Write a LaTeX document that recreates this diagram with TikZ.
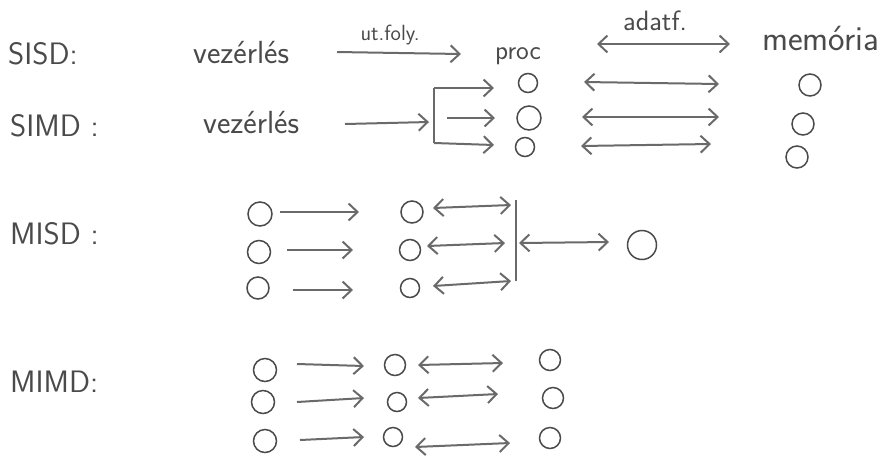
\documentclass[tikz,border=0pt]{standalone}
\usetikzlibrary{arrows.meta}
\definecolor{pencil}{HTML}{4A4A4A}
\definecolor{pencilL}{HTML}{6A6A6A}
\begin{document}
\begin{tikzpicture}[x=1pt,y=-1pt,
  txt/.style={text=pencil,inner sep=0pt,font=\sffamily\fontsize{32}{36}\selectfont},
  lab/.style={text=pencil,inner sep=0pt,anchor=base west,font=\sffamily\fontsize{31}{36}\selectfont},
  ring/.style={circle,draw=pencil,line width=1.5pt,inner sep=0pt,minimum size=#1},
  ring/.default=22pt,
  arr/.style={draw=pencilL,line width=2pt,-{Straight Barb[length=9pt,width=17pt]}},
  darr/.style={draw=pencilL,line width=2pt,{Straight Barb[length=9pt,width=17pt]}-{Straight Barb[length=9pt,width=17pt]}},
  brk/.style={draw=pencilL,line width=2pt}
]
\useasboundingbox (0,0) rectangle (888,459);

% ---------- SISD ----------
\node[lab] (sisd) at (8,64) {SISD:};
\node[txt,anchor=base west] (v1) at (193,63) {vezérlés};
\node[txt,anchor=base,font=\sffamily\fontsize{27}{30}\selectfont] (proc) at (518,59) {proc};
\node[txt,anchor=base west,font=\sffamily\fontsize{35}{38}\selectfont] (mem) at (762,50) {memória};
\node[txt,anchor=base,font=\sffamily\fontsize{22}{26}\selectfont] (utf) at (390,40) {ut.foly.};
\node[txt,anchor=base,font=\sffamily\fontsize{28}{30}\selectfont] (adf) at (655,30) {adatf.};
\coordinate (s1a) at (337,52);
\coordinate (s1b) at (461,54);
\coordinate (s2a) at (597,44);
\coordinate (s2b) at (730,44);
\draw[arr] (s1a) -- (s1b);
\draw[darr] (s2a) -- (s2b);

% ---------- SIMD ----------
\node[lab] (simd) at (10,136) {SIMD :};
\node[txt,anchor=base west] (v2) at (203,133) {vezérlés};
\coordinate (vo) at (345,124);
\coordinate (bi) at (429,122);
\coordinate (bt) at (434,88);
\coordinate (bm) at (447,118);
\coordinate (bb) at (434,143);
\coordinate (t1) at (494,88);
\coordinate (t2) at (495,118);
\coordinate (t3) at (494,145);
\node[ring=19pt] (p1) at (528,83) {};
\node[ring=24pt] (p2) at (529,118) {};
\node[ring=19pt] (p3) at (525,147) {};
\node[ring=22pt] (m1) at (810,85) {};
\node[ring=22pt] (m2) at (803,124) {};
\node[ring=22pt] (m3) at (797,157) {};
\coordinate (q1a) at (584,82); \coordinate (q1b) at (719,84);
\coordinate (q2a) at (582,117); \coordinate (q2b) at (719,117);
\coordinate (q3a) at (581,146); \coordinate (q3b) at (711,144);
\draw[arr] (vo) -- (bi);
\draw[brk] (bt) -- (bb);
\draw[arr] (bt) -- (t1);
\draw[arr] (bm) -- (t2);
\draw[arr] (bb) -- (t3);
\draw[darr] (q1a) -- (q1b);
\draw[darr] (q2a) -- (q2b);
\draw[darr] (q3a) -- (q3b);

% ---------- MISD ----------
\node[lab] (misd) at (10,244) {MISD :};
\node[ring=24pt] (a1) at (260,214) {};
\node[ring=23pt] (a2) at (259,252) {};
\node[ring=22pt] (a3) at (258,288) {};
\node[ring=22pt] (b1) at (412,212) {};
\node[ring=21pt] (b2) at (410,250) {};
\node[ring=19pt] (b3) at (410,288) {};
\node[ring=29pt] (c) at (642,245) {};
\coordinate (x1a) at (280,212); \coordinate (x1b) at (359,212);
\coordinate (x2a) at (287,250); \coordinate (x2b) at (353,250);
\coordinate (x3a) at (293,290); \coordinate (x3b) at (353,290);
\coordinate (y1a) at (433,208); \coordinate (y1b) at (511,205);
\coordinate (y2a) at (427,246); \coordinate (y2b) at (505,243);
\coordinate (y3a) at (433,286); \coordinate (y3b) at (511,281);
\coordinate (vt) at (516,200);
\coordinate (vb) at (516,281);
\coordinate (vm) at (519,243);
\coordinate (ce) at (609,242);
\draw[arr] (x1a) -- (x1b);
\draw[arr] (x2a) -- (x2b);
\draw[arr] (x3a) -- (x3b);
\draw[darr] (y1a) -- (y1b);
\draw[darr] (y2a) -- (y2b);
\draw[darr] (y3a) -- (y3b);
\draw[brk] (vt) -- (vb);
\draw[darr] (vm) -- (ce);

% ---------- MIMD ----------
\node[lab] (mimd) at (10,392) {MIMD:};
\node[ring=23pt] (d1) at (265,370) {};
\node[ring=23pt] (d2) at (263,402) {};
\node[ring=23pt] (d3) at (265,441) {};
\node[ring=21pt] (e1) at (395,365) {};
\node[ring=19pt] (e2) at (397,402) {};
\node[ring=19pt] (e3) at (393,437) {};
\node[ring=21pt] (f1) at (550,360) {};
\node[ring=21pt] (f2) at (553,398) {};
\node[ring=21pt] (f3) at (550,438) {};
\coordinate (g1a) at (297,364); \coordinate (g1b) at (364,366);
\coordinate (g2a) at (297,402); \coordinate (g2b) at (364,398);
\coordinate (g3a) at (300,440); \coordinate (g3b) at (364,437);
\coordinate (h1a) at (418,365); \coordinate (h1b) at (503,363);
\coordinate (h2a) at (418,398); \coordinate (h2b) at (498,394);
\coordinate (h3a) at (415,447); \coordinate (h3b) at (510,443);
\draw[arr] (g1a) -- (g1b);
\draw[arr] (g2a) -- (g2b);
\draw[arr] (g3a) -- (g3b);
\draw[darr] (h1a) -- (h1b);
\draw[darr] (h2a) -- (h2b);
\draw[darr] (h3a) -- (h3b);
\end{tikzpicture}
\end{document}
